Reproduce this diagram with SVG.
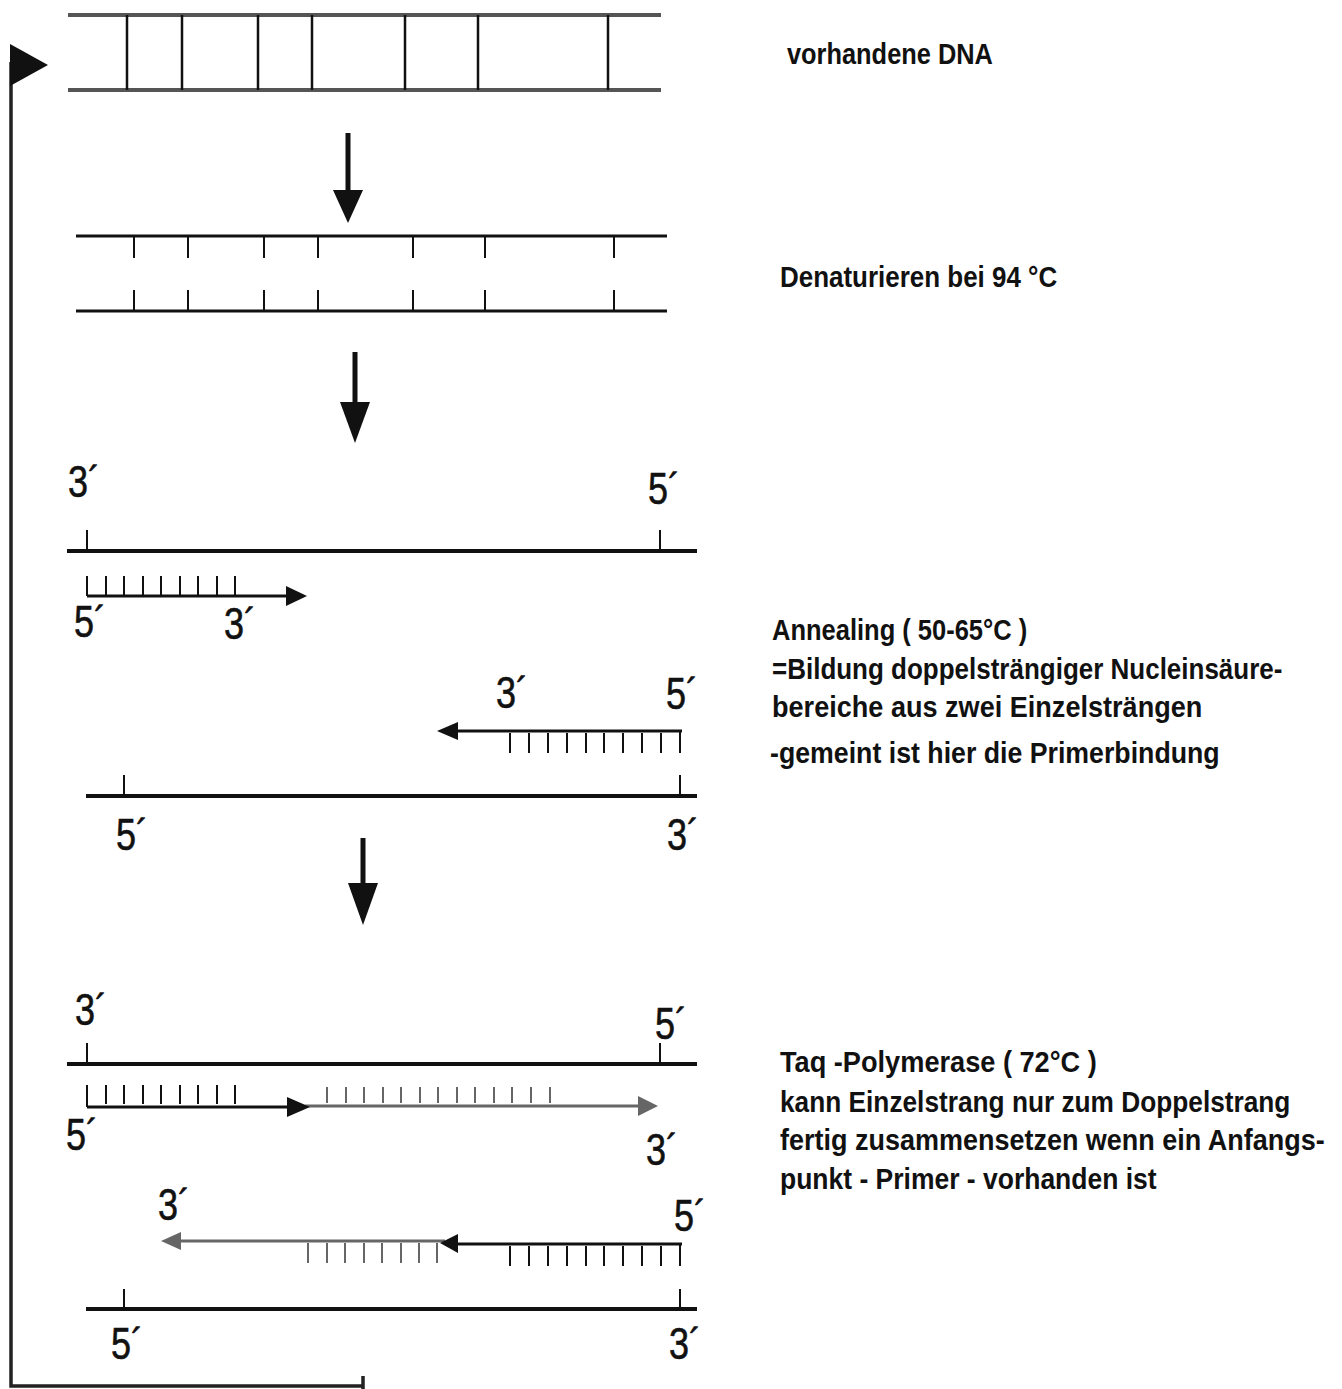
<svg xmlns="http://www.w3.org/2000/svg" width="1342" height="1389" viewBox="0 0 1342 1389">
<style>
.strand{stroke:#111;stroke-width:4;fill:none}
.tstrand{stroke:#555;stroke-width:4;fill:none}
.rung{stroke:#111;stroke-width:2.5;fill:none}
.tick{stroke:#111;stroke-width:2;fill:none}
.gtick{stroke:#666;stroke-width:2;fill:none}
.pline{stroke:#111;stroke-width:3;fill:none}
.gline{stroke:#666;stroke-width:3;fill:none}
.lbl{font-family:"Liberation Sans Narrow","Liberation Sans",Arial,sans-serif;font-size:44px;fill:#111;stroke:#111;stroke-width:0.6}
.txt{font-family:"Liberation Sans Narrow","Liberation Sans",Arial,sans-serif;font-weight:bold;font-size:30px;fill:#111}
.head{fill:#111}
.ghead{fill:#666}
</style>
<rect width="1342" height="1389" fill="#fff"/>

<g id="dna-original">
<line class="tstrand" x1="68" y1="15" x2="661" y2="15"/>
<line class="tstrand" x1="68" y1="90" x2="661" y2="90"/>
<path class="rung" d="M127 15V90M182 15V90M258 15V90M312 15V90M405 15V90M478 15V90M608 15V90"/>
<text class="txt" transform="translate(787,64) scale(0.88,1)" textLength="234" lengthAdjust="spacingAndGlyphs">vorhandene DNA</text>
</g>

<g id="dna-denatured">
<line class="strand" x1="76" y1="236" x2="667" y2="236" style="stroke-width:3"/>
<line class="strand" x1="76" y1="311" x2="667" y2="311" style="stroke-width:3"/>
<path class="tick" d="M134 236V258M188 236V258M264 236V258M318 236V258M413 236V258M485 236V258M614 236V258"/>
<path class="tick" d="M134 290V311M188 290V311M264 290V311M318 290V311M413 290V311M485 290V311M614 290V311"/>
<text class="txt" transform="translate(780,287) scale(0.88,1)" textLength="315" lengthAdjust="spacingAndGlyphs">Denaturieren bei 94 °C</text>
</g>

<g id="annealing">
<text class="lbl" x="68" y="497" textLength="32" lengthAdjust="spacingAndGlyphs">3´</text>
<text class="lbl" x="648" y="504" textLength="32" lengthAdjust="spacingAndGlyphs">5´</text>
<line class="strand" x1="67" y1="551" x2="697" y2="551"/>
<path class="tick" d="M87 530V551M660 530V551"/>
<path class="tick" d="M87 576V596M106 576V596M124 576V596M143 576V596M161 576V596M180 576V596M198 576V596M217 576V596M235 576V596"/>
<line class="pline" x1="87" y1="596" x2="290" y2="596"/>
<polygon class="head" points="286,586 307,596 286,606"/>
<text class="lbl" x="74" y="637" textLength="32" lengthAdjust="spacingAndGlyphs">5´</text>
<text class="lbl" x="224" y="639" textLength="32" lengthAdjust="spacingAndGlyphs">3´</text>

<text class="lbl" x="496" y="708" textLength="32" lengthAdjust="spacingAndGlyphs">3´</text>
<text class="lbl" x="666" y="709" textLength="32" lengthAdjust="spacingAndGlyphs">5´</text>
<line class="pline" x1="455" y1="731" x2="682" y2="731"/>
<polygon class="head" points="458,722 437,731 458,740"/>
<path class="tick" d="M510 733V753M529 733V753M548 733V753M567 733V753M586 733V753M604 733V753M623 733V753M642 733V753M661 733V753M680 731V753"/>
<line class="strand" x1="86" y1="796" x2="697" y2="796"/>
<path class="tick" d="M124 775V796M680 775V796"/>
<text class="lbl" x="116" y="850" textLength="32" lengthAdjust="spacingAndGlyphs">5´</text>
<text class="lbl" x="667" y="850" textLength="32" lengthAdjust="spacingAndGlyphs">3´</text>

<text class="txt" transform="translate(772,640) scale(0.88,1)" textLength="290" lengthAdjust="spacingAndGlyphs">Annealing ( 50-65°C )</text>
<text class="txt" transform="translate(772,679) scale(0.88,1)" textLength="580" lengthAdjust="spacingAndGlyphs">=Bildung doppelsträngiger Nucleinsäure-</text>
<text class="txt" transform="translate(772,717) scale(0.88,1)" textLength="489" lengthAdjust="spacingAndGlyphs">bereiche aus zwei  Einzelsträngen</text>
<text class="txt" transform="translate(770,763) scale(0.88,1)" textLength="511" lengthAdjust="spacingAndGlyphs">-gemeint ist hier die Primerbindung</text>
</g>

<g id="taq-polymerase">
<text class="lbl" x="75" y="1025" textLength="32" lengthAdjust="spacingAndGlyphs">3´</text>
<text class="lbl" x="655" y="1039" textLength="32" lengthAdjust="spacingAndGlyphs">5´</text>
<line class="strand" x1="67" y1="1064" x2="697" y2="1064"/>
<path class="tick" d="M87 1043V1064M660 1043V1064"/>
<path class="tick" d="M87 1085V1107M106 1085V1104M124 1085V1104M143 1085V1104M161 1085V1104M180 1085V1104M198 1085V1104M217 1085V1104M235 1085V1104"/>
<line class="pline" x1="87" y1="1107" x2="292" y2="1107"/>
<line class="gline" x1="305" y1="1106" x2="645" y2="1106"/>
<polygon class="head" points="287,1097 310,1107 287,1117"/>
<polygon class="ghead" points="638,1096 658,1106 638,1116"/>
<path class="gtick" d="M327 1087V1103M346 1087V1103M364 1087V1103M383 1087V1103M401 1087V1103M420 1087V1103M438 1087V1103M457 1087V1103M475 1087V1103M494 1087V1103M512 1087V1103M531 1087V1103M550 1087V1103"/>
<text class="lbl" x="66" y="1150" textLength="32" lengthAdjust="spacingAndGlyphs">5´</text>
<text class="lbl" x="646" y="1165" textLength="32" lengthAdjust="spacingAndGlyphs">3´</text>

<text class="lbl" x="158" y="1220" textLength="32" lengthAdjust="spacingAndGlyphs">3´</text>
<text class="lbl" x="674" y="1231" textLength="32" lengthAdjust="spacingAndGlyphs">5´</text>
<line class="gline" x1="172" y1="1241" x2="445" y2="1241"/>
<polygon class="ghead" points="181,1232 161,1241 181,1250"/>
<line class="pline" x1="452" y1="1244" x2="682" y2="1244"/>
<polygon class="head" points="458,1234 440,1243 458,1253"/>
<path class="gtick" d="M308 1243V1263M327 1243V1263M345 1243V1263M364 1243V1263M382 1243V1263M401 1243V1263M419 1243V1263M437 1243V1263"/>
<path class="tick" d="M510 1246V1266M529 1246V1266M548 1246V1266M567 1246V1266M586 1246V1266M604 1246V1266M623 1246V1266M642 1246V1266M661 1246V1266M680 1244V1266"/>
<line class="strand" x1="86" y1="1309" x2="697" y2="1309"/>
<path class="tick" d="M124 1289V1309M680 1289V1309"/>
<text class="lbl" x="111" y="1359" textLength="32" lengthAdjust="spacingAndGlyphs">5´</text>
<text class="lbl" x="669" y="1359" textLength="32" lengthAdjust="spacingAndGlyphs">3´</text>

<text class="txt" transform="translate(780,1072) scale(0.88,1)" textLength="360" lengthAdjust="spacingAndGlyphs">Taq -Polymerase   ( 72°C )</text>
<text class="txt" transform="translate(780,1112) scale(0.88,1)" textLength="580" lengthAdjust="spacingAndGlyphs">kann Einzelstrang nur zum Doppelstrang</text>
<text class="txt" transform="translate(780,1150) scale(0.88,1)" textLength="619" lengthAdjust="spacingAndGlyphs">fertig zusammensetzen wenn ein Anfangs-</text>
<text class="txt" transform="translate(780,1189) scale(0.88,1)" textLength="428" lengthAdjust="spacingAndGlyphs">punkt - Primer - vorhanden ist</text>
</g>

<g id="connectors">
<line x1="348" y1="133" x2="348" y2="195" stroke="#111" stroke-width="5"/>
<polygon class="head" points="333,190 363,190 348,223"/>
<line x1="355" y1="352" x2="355" y2="408" stroke="#111" stroke-width="5"/>
<polygon class="head" points="340,402 370,402 355,443"/>
<line x1="363" y1="838" x2="363" y2="888" stroke="#111" stroke-width="5"/>
<polygon class="head" points="348,883 378,883 363,925"/>
<path d="M363 1376V1389M362 1386H11V62" stroke="#222" stroke-width="3.5" fill="none"/>
<polygon class="head" points="10,44 48,65 10,86"/>
</g>
</svg>
